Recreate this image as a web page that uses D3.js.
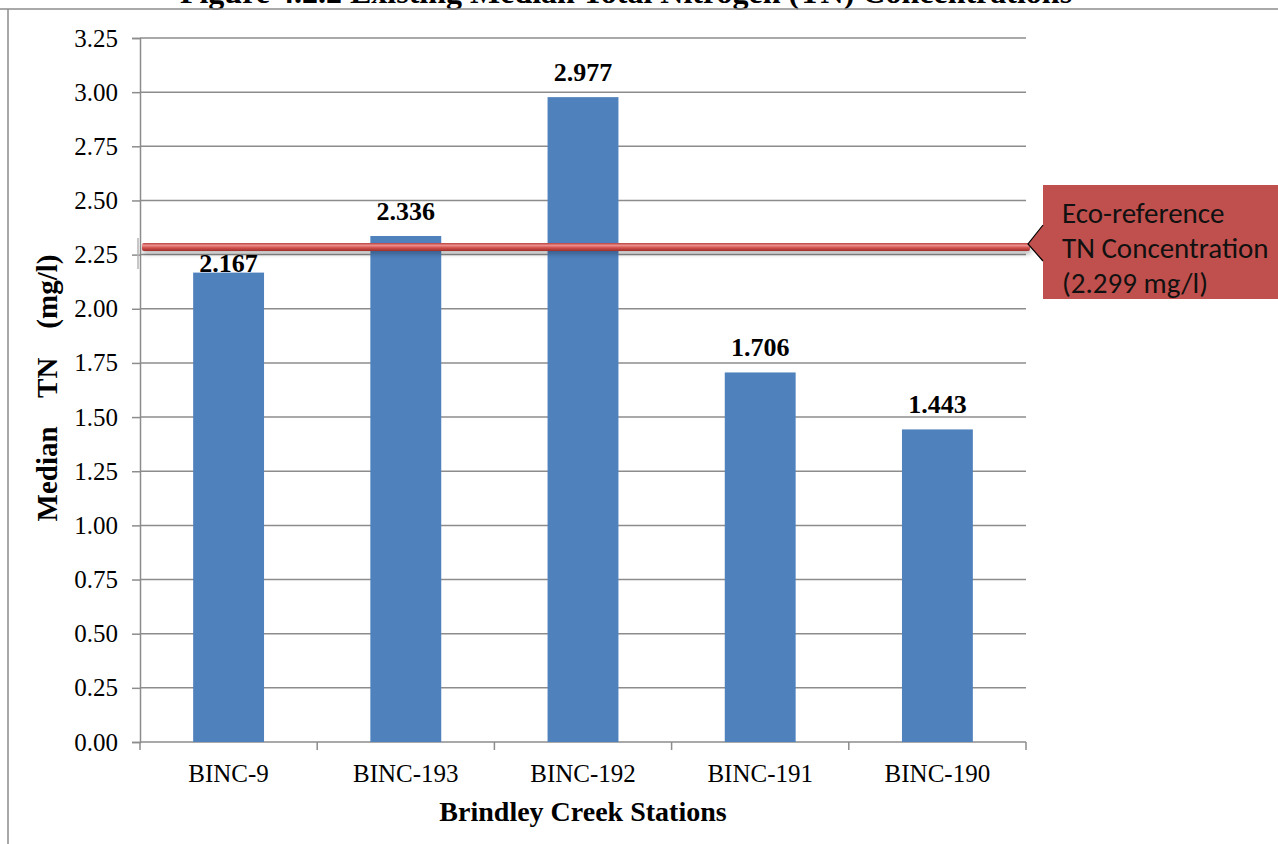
<!DOCTYPE html>
<html>
<head>
<meta charset="utf-8">
<script src="https://cdn.jsdelivr.net/npm/d3@7/dist/d3.min.js"></script>
<style>
  html, body { margin: 0; padding: 0; background: #fff; }
  svg { display: block; }
</style>
</head>
<body>
<svg id="chart" width="1278" height="844"></svg>
<script>
// Station data
const stations = ["BINC-9", "BINC-193", "BINC-192", "BINC-191", "BINC-190"];
const medianTN = [2.167, 2.336, 2.977, 1.706, 1.443];
const yTicks = [0, 0.25, 0.5, 0.75, 1.0, 1.25, 1.5, 1.75, 2.0, 2.25, 2.5, 2.75, 3.0, 3.25];
const ecoReference = 2.299;
const calloutLines = ["Eco-reference", "TN Concentration", "(2.299 mg/l)"];
const titleText = "Figure 4.2.2 Existing Median Total Nitrogen (TN) Concentrations";

const svg = d3.select("#chart");
const W = 1278, H = 844;
const plot = { left: 140, right: 1026, top: 38, bottom: 742 };
const serif = "'Liberation Serif', 'Times New Roman', serif";
const gridColor = "#8c8c8c";
const barColor = "#4f81bd";
const refColor = "#c0504d";

const x = d3.scaleBand().domain(stations).range([plot.left, plot.right])
  .paddingInner(0.6).paddingOuter(0.3);
const y = d3.scaleLinear().domain([0, 3.25]).range([plot.bottom, plot.top]);

// Figure caption (runs off the top edge of the page) and frame
svg.append("text")
  .attr("x", 626).attr("y", 3)
  .attr("text-anchor", "middle")
  .attr("font-family", serif).attr("font-weight", "bold").attr("font-size", 32)
  .text(titleText);
svg.append("line").attr("x1", 0).attr("x2", W).attr("y1", 9).attr("y2", 9)
  .attr("stroke", gridColor).attr("stroke-width", 1.5);
svg.append("line").attr("x1", 8).attr("x2", 8).attr("y1", 9).attr("y2", H)
  .attr("stroke", gridColor).attr("stroke-width", 1.5);

// Horizontal gridlines
svg.append("g").selectAll("line").data(yTicks.filter(d => d > 0)).join("line")
  .attr("x1", plot.left).attr("x2", plot.right)
  .attr("y1", d => y(d)).attr("y2", d => y(d))
  .attr("stroke", gridColor).attr("stroke-width", 1.5);

// Y axis
const yAxis = svg.append("g").attr("transform", `translate(${plot.left},0)`)
  .call(d3.axisLeft(y).tickValues(yTicks).tickFormat(d3.format(".2f")).tickSize(8).tickPadding(14));
yAxis.select(".domain").attr("stroke", gridColor).attr("stroke-width", 1.5);
yAxis.selectAll(".tick line").attr("stroke", gridColor).attr("stroke-width", 1.5);
yAxis.selectAll(".tick text").attr("font-family", serif).attr("font-size", 25).attr("fill", "#000");

// X axis with category boundary ticks
svg.append("line").attr("x1", plot.left).attr("x2", plot.right)
  .attr("y1", plot.bottom).attr("y2", plot.bottom)
  .attr("stroke", gridColor).attr("stroke-width", 1.5);
const bounds = stations.map(s => x(s) - x.step() * 0.3).concat([plot.right]);
svg.append("g").selectAll("line").data(bounds).join("line")
  .attr("x1", d => d).attr("x2", d => d)
  .attr("y1", plot.bottom).attr("y2", plot.bottom + 8)
  .attr("stroke", gridColor).attr("stroke-width", 1.5);
svg.append("g").selectAll("text").data(stations).join("text")
  .attr("x", d => x(d) + x.bandwidth() / 2).attr("y", 782)
  .attr("text-anchor", "middle")
  .attr("font-family", serif).attr("font-size", 25).attr("fill", "#000")
  .text(d => d);

// Bars
svg.append("g").selectAll("rect").data(stations).join("rect")
  .attr("x", d => x(d)).attr("width", x.bandwidth())
  .attr("y", (d, i) => y(medianTN[i]))
  .attr("height", (d, i) => y(0) - y(medianTN[i]))
  .attr("fill", barColor);

// Axis titles
svg.append("text")
  .attr("x", 583).attr("y", 821)
  .attr("text-anchor", "middle")
  .attr("font-family", serif).attr("font-weight", "bold").attr("font-size", 28)
  .text("Brindley Creek Stations");
svg.append("text")
  .attr("transform", "translate(57,388) rotate(-90)")
  .attr("text-anchor", "middle")
  .attr("font-family", serif).attr("font-weight", "bold").attr("font-size", 29)
  .style("white-space", "pre")
  .text("Median    TN    (mg/l)");

// Eco-reference line with raised look
const defs = svg.append("defs");
const grad = defs.append("linearGradient").attr("id", "refGrad")
  .attr("x1", 0).attr("x2", 0).attr("y1", 0).attr("y2", 1);
grad.append("stop").attr("offset", "0%").attr("stop-color", "#b8413e");
grad.append("stop").attr("offset", "30%").attr("stop-color", "#ec8f8c");
grad.append("stop").attr("offset", "60%").attr("stop-color", "#d0504c");
grad.append("stop").attr("offset", "100%").attr("stop-color", "#9e2f2c");
defs.append("filter").attr("id", "refShadow").attr("x", "-5%").attr("y", "-200%")
  .attr("width", "110%").attr("height", "500%")
  .append("feGaussianBlur").attr("stdDeviation", 2.5);

const refY = y(ecoReference) + 3;
svg.append("rect")
  .attr("x", 143).attr("y", refY).attr("width", 888).attr("height", 7)
  .attr("fill", "#000").attr("opacity", 0.28).attr("filter", "url(#refShadow)");
svg.append("line").attr("x1", 138).attr("x2", 138).attr("y1", refY - 9).attr("y2", refY + 22)
  .attr("stroke", "#b4b4b4").attr("stroke-width", 1.5);
svg.append("rect")
  .attr("x", 142).attr("y", refY - 4).attr("width", 888).attr("height", 8)
  .attr("rx", 2)
  .attr("fill", "url(#refGrad)");

// Value labels; a label that would collide with the reference line sits at the bar top
svg.append("g").selectAll("text").data(stations).join("text")
  .attr("x", d => x(d) + x.bandwidth() / 2)
  .attr("y", (d, i) => {
    const top = y(medianTN[i]);
    const base = top - 16;
    const clash = base > refY - 6 && base - 19 < refY + 6;
    return clash ? top - 1 : base;
  })
  .attr("text-anchor", "middle")
  .attr("font-family", serif).attr("font-weight", "bold").attr("font-size", 26)
  .attr("fill", "#000")
  .text((d, i) => d3.format(".3f")(medianTN[i]));

// Callout box pointing at the reference line
const box = { x: 1043, y: 185, w: 240, h: 114 };
const apex = { x: 1028, y: refY - 3 };
svg.append("path")
  .attr("d", `M${box.x},${box.y} H${box.x + box.w} V${box.y + box.h} H${box.x}
              V${apex.y + 17} L${apex.x},${apex.y} L${box.x},${apex.y - 19} Z`)
  .attr("fill", refColor);
svg.append("path")
  .attr("d", `M${box.x},${apex.y - 19} L${apex.x},${apex.y} L${box.x},${apex.y + 17}`)
  .attr("fill", "none").attr("stroke", "#000").attr("stroke-width", 1.2);
svg.append("g").selectAll("text").data(calloutLines).join("text")
  .attr("x", 1062).attr("y", (d, i) => 223 + i * 35)
  .attr("font-family", "Carlito, Lato, 'Open Sans', sans-serif").attr("font-size", 29)
  .attr("fill", "#111")
  .text(d => d);
</script>
</body>
</html>
